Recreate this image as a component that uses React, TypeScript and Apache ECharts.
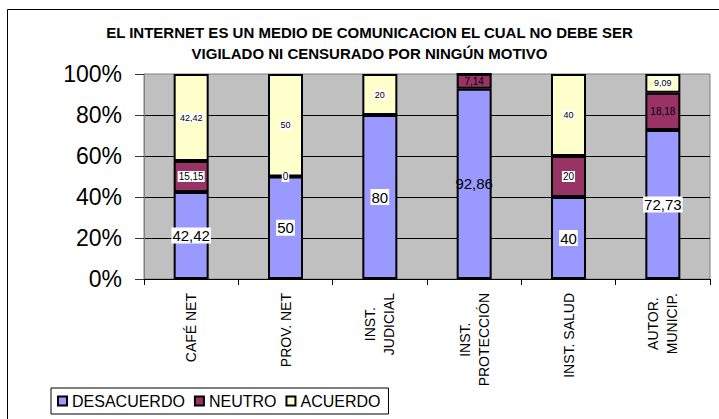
import React, { useEffect, useRef } from "react";
import * as echarts from "echarts";

const titleLines = [
  "EL INTERNET ES UN MEDIO DE COMUNICACION EL CUAL NO DEBE SER",
  "VIGILADO NI CENSURADO POR NINGÚN MOTIVO",
];
const categories = [
  "CAFÉ NET",
  "PROV. NET",
  "INST.\nJUDICIAL",
  "INST.\nPROTECCIÓN",
  "INST. SALUD",
  "AUTOR.\nMUNICIP.",
];
const yTicks = [0, 20, 40, 60, 80, 100];
const seriesNames = ["DESACUERDO", "NEUTRO", "ACUERDO"];
const desacuerdo = [42.42, 50, 80, 92.86, 40, 72.73];
const neutro = [15.15, 0, 0, 7.14, 20, 18.18];
const acuerdo = [42.42, 50, 20, 0, 40, 9.09];
// which data labels are displayed / have a white box
const desacuerdoShow = [true, true, true, true, true, true];
const desacuerdoBox = [true, true, true, false, true, true];
const neutroShow = [true, true, false, true, true, true];
const neutroBox = [true, true, false, false, true, false];
const acuerdoShow = [true, true, true, false, true, true];
const acuerdoBox = [true, true, true, false, true, true];

const FONT = "Arial, 'Liberation Sans', sans-serif";

function makeData(values: number[], show: boolean[], box: boolean[]) {
  return values.map((v, i) => ({
    value: v,
    label: {
      show: show[i],
      backgroundColor: box[i] ? "#ffffff" : "transparent",
    },
  }));
}

export default function App() {
  const ref = useRef<HTMLDivElement>(null);
  useEffect(() => {
    if (!ref.current) return;
    const chart = echarts.init(ref.current, undefined, { renderer: "svg" });
    const fmt = (p: any) => String(p.value).replace(".", ",");
    const baseSeries = {
      type: "bar",
      stack: "total",
      barWidth: 35,
      itemStyle: { borderColor: "#000", borderWidth: 2 },
    };
    chart.setOption({
      animation: false,
      backgroundColor: "#ffffff",
      textStyle: { fontFamily: FONT },
      graphic: [
        {
          type: "rect",
          shape: { x: 7.5, y: 9.5, width: 800, height: 500 },
          style: { fill: "none", stroke: "#000", lineWidth: 1 },
          z: -10,
        },
        {
          type: "text",
          x: 369.5,
          y: 32,
          style: {
            text: titleLines[0],
            font: `bold 15px ${FONT}`,
            textAlign: "center",
            textVerticalAlign: "middle",
            fill: "#000",
          },
        },
        {
          type: "text",
          x: 369.5,
          y: 53,
          style: {
            text: titleLines[1],
            font: `bold 15px ${FONT}`,
            textAlign: "center",
            textVerticalAlign: "middle",
            fill: "#000",
          },
        },
      ],
      grid: {
        left: 144,
        right: 9,
        top: 74,
        bottom: 140,
        show: true,
        backgroundColor: "#C0C0C0",
        borderColor: "#808080",
        borderWidth: 1,
      },
      legend: {
        data: seriesNames,
        left: 51,
        top: 388,
        orient: "horizontal",
        borderColor: "#000",
        borderWidth: 1,
        backgroundColor: "#fff",
        padding: [5, 8, 5, 6],
        itemGap: 9,
        itemWidth: 9,
        itemHeight: 9,
        icon: "rect",
        textStyle: { fontSize: 16, color: "#000", fontFamily: FONT },
      },
      xAxis: {
        type: "category",
        data: categories,
        axisLine: { show: true, lineStyle: { color: "#000", width: 1 } },
        axisTick: { show: true, length: 6, lineStyle: { color: "#000" } },
        axisLabel: {
          rotate: 90,
          margin: 14,
          interval: 0,
          formatter: (v: string) =>
            v
              .split("\n")
              .map((s) => `{c|${s}}`)
              .join("\n"),
          rich: {
            c: {
              align: "center",
              fontSize: 14,
              lineHeight: 19,
              color: "#000",
              fontFamily: FONT,
            },
          },
        },
      },
      yAxis: {
        type: "value",
        min: yTicks[0],
        max: yTicks[yTicks.length - 1],
        interval: 20,
        axisLine: { show: true, lineStyle: { color: "#808080" } },
        axisTick: { show: true, length: 9, lineStyle: { color: "#333" } },
        axisLabel: {
          formatter: "{value}%",
          fontSize: 23,
          color: "#000",
          margin: 22,
          fontFamily: FONT,
        },
        splitLine: {
          show: true,
          showMaxLine: false,
          lineStyle: { color: "#000", width: 1 },
        },
      },
      series: [
        {
          ...baseSeries,
          name: seriesNames[0],
          data: makeData(desacuerdo, desacuerdoShow, desacuerdoBox),
          itemStyle: { ...baseSeries.itemStyle, color: "#9999FF" },
          label: {
            show: true,
            position: "inside",
            formatter: fmt,
            fontSize: 15,
            color: "#000",
            padding: [1, 1, 0, 1],
            fontFamily: FONT,
          },
        },
        {
          ...baseSeries,
          name: seriesNames[1],
          data: makeData(neutro, neutroShow, neutroBox),
          itemStyle: { ...baseSeries.itemStyle, color: "#993366" },
          label: {
            show: true,
            position: "inside",
            formatter: fmt,
            fontSize: 10,
            color: "#000",
            padding: [1, 1, 0, 1],
            fontFamily: FONT,
          },
        },
        {
          ...baseSeries,
          name: seriesNames[2],
          data: makeData(acuerdo, acuerdoShow, acuerdoBox),
          itemStyle: { ...baseSeries.itemStyle, color: "#FFFFCC" },
          label: {
            show: true,
            position: "inside",
            formatter: fmt,
            fontSize: 9,
            color: "#000",
            padding: [1, 1, 0, 1],
            fontFamily: FONT,
          },
        },
      ],
    });
    return () => chart.dispose();
  }, []);
  return (
    <div
      ref={ref}
      style={{ position: "fixed", left: 0, top: 0, width: 719, height: 419 }}
    />
  );
}
